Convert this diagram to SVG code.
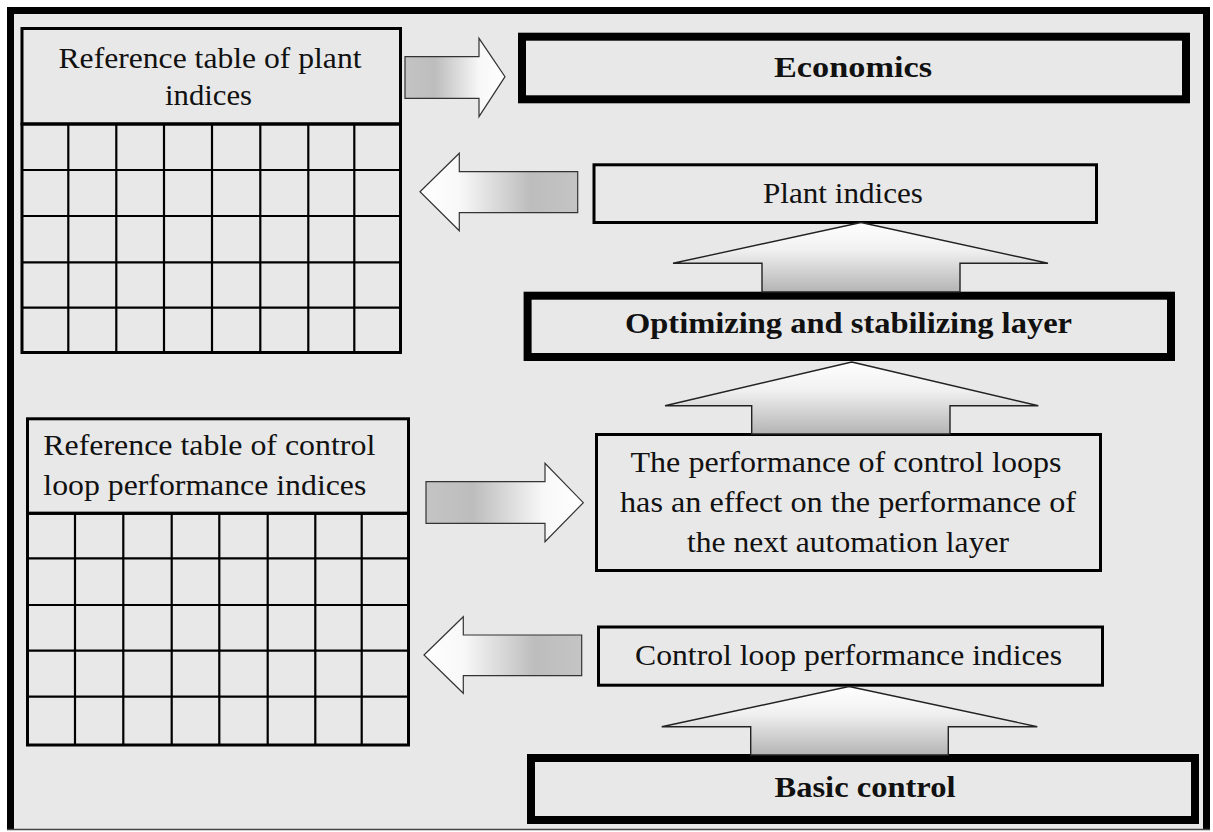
<svg xmlns="http://www.w3.org/2000/svg" width="1213" height="832" viewBox="0 0 1213 832" font-family="'Liberation Serif', 'Times New Roman', 'DejaVu Serif', serif">
<style>
text{font-family:'Liberation Serif','Times New Roman','DejaVu Serif',serif;}
.txt{font-size:29px;fill:#111;}
.b{font-weight:bold;}
.thin{fill:none;stroke:#000;stroke-width:3;}
.thick{fill:none;stroke:#000;stroke-width:8;}
.grid{fill:none;stroke:#000;stroke-width:2.2;}
.arrR{fill:url(#gradR);stroke:#333;stroke-width:1.2;stroke-linejoin:miter;}
.arrL{fill:url(#gradL);stroke:#333;stroke-width:1.2;stroke-linejoin:miter;}
.arrU{fill:url(#gradU);stroke:#222;stroke-width:1.4;stroke-linejoin:miter;}
</style>
<defs>
<linearGradient id="gradR" x1="0" y1="0" x2="1" y2="0">
<stop offset="0" stop-color="#c4c4c4"/>
<stop offset="0.3" stop-color="#bdbdbd"/>
<stop offset="0.75" stop-color="#f8f8f8"/>
<stop offset="1" stop-color="#ffffff"/>
</linearGradient>
<linearGradient id="gradL" x1="1" y1="0" x2="0" y2="0">
<stop offset="0" stop-color="#c4c4c4"/>
<stop offset="0.3" stop-color="#bdbdbd"/>
<stop offset="0.75" stop-color="#f8f8f8"/>
<stop offset="1" stop-color="#ffffff"/>
</linearGradient>
<linearGradient id="gradU" x1="0" y1="0" x2="0" y2="1">
<stop offset="0" stop-color="#ffffff"/>
<stop offset="0.4" stop-color="#f0f0f0"/>
<stop offset="1" stop-color="#b4b4b4"/>
</linearGradient>
</defs>
<rect x="0" y="0" width="1213" height="832" fill="#ffffff"/>
<g id="frame">
<rect x="7" y="7" width="1203" height="823" fill="#e8e8e8"/>
<path d="M10.5 830 V10.5 H1206.5 V830" fill="none" stroke="#000" stroke-width="7"/>
<line x1="7" y1="829.5" x2="1210" y2="829.5" stroke="#444" stroke-width="1.5"/>
</g>
<g id="ref-table-plant">
<rect class="thin" x="22" y="28.5" width="378.5" height="95.5"/>
<text class="txt" x="210" y="68" text-anchor="middle" textLength="303" lengthAdjust="spacingAndGlyphs">Reference table of plant</text>
<text class="txt" x="208.5" y="105" text-anchor="middle" textLength="87" lengthAdjust="spacingAndGlyphs">indices</text>
<rect class="thin" x="22" y="124" width="378.5" height="228.5"/>
<path class="grid" d="M68.3 124V352.5M116.3 124V352.5M164 124V352.5M212 124V352.5M260.3 124V352.5M308.3 124V352.5M354.3 124V352.5M22 170H400.5M22 216H400.5M22 262.3H400.5M22 307.7H400.5"/>
</g>
<g id="economics">
<rect class="thick" x="522" y="36.7" width="664" height="62.6"/>
<text class="txt b" x="853" y="77" text-anchor="middle" textLength="158" lengthAdjust="spacingAndGlyphs">Economics</text>
</g>
<g id="plant-indices">
<rect class="thin" x="594" y="164.8" width="502.5" height="57.7"/>
<text class="txt" x="843" y="203" text-anchor="middle" textLength="160" lengthAdjust="spacingAndGlyphs">Plant indices</text>
</g>
<g id="optimizing-layer">
<rect class="thick" x="527.6" y="295.7" width="643.4" height="61.3"/>
<text class="txt b" x="848.5" y="333" text-anchor="middle" textLength="447" lengthAdjust="spacingAndGlyphs">Optimizing and stabilizing layer</text>
</g>
<g id="ref-table-control">
<rect class="thin" x="27.5" y="418.8" width="381" height="94.5"/>
<text class="txt" x="43.3" y="455" textLength="332" lengthAdjust="spacingAndGlyphs">Reference table of control</text>
<text class="txt" x="43.3" y="495" textLength="323" lengthAdjust="spacingAndGlyphs">loop performance indices</text>
<rect class="thin" x="27.5" y="513.3" width="381" height="231.7"/>
<path class="grid" d="M75 513.3V745M123.3 513.3V745M171.7 513.3V745M219.3 513.3V745M267.7 513.3V745M315.3 513.3V745M361.7 513.3V745M27.5 558.3H408.5M27.5 605H408.5M27.5 650.7H408.5M27.5 696.7H408.5"/>
</g>
<g id="performance-effect">
<rect class="thin" x="596.5" y="434.5" width="504" height="136"/>
<text class="txt" x="846" y="472" text-anchor="middle" textLength="431" lengthAdjust="spacingAndGlyphs">The performance of control loops</text>
<text class="txt" x="848" y="512" text-anchor="middle" textLength="456" lengthAdjust="spacingAndGlyphs">has an effect on the performance of</text>
<text class="txt" x="848" y="552" text-anchor="middle" textLength="322" lengthAdjust="spacingAndGlyphs">the next automation layer</text>
</g>
<g id="control-loop-indices">
<rect class="thin" x="598.5" y="627" width="504" height="58.2"/>
<text class="txt" x="848.5" y="665" text-anchor="middle" textLength="427" lengthAdjust="spacingAndGlyphs">Control loop performance indices</text>
</g>
<g id="basic-control">
<rect class="thick" x="531" y="758" width="664" height="62"/>
<text class="txt b" x="865" y="797" text-anchor="middle" textLength="181" lengthAdjust="spacingAndGlyphs">Basic control</text>
</g>
<g id="connectors">
<polygon class="arrR" points="405,56.7 479,56.7 479,38.3 505,76.7 479,116.7 479,98.3 405,98.3"/>
<polygon class="arrL" points="420,191.7 459.3,153.3 459.3,171.7 577.7,171.7 577.7,212.7 459.3,212.7 459.3,230.7"/>
<polygon class="arrR" points="426,481.7 545,481.7 545,463.3 583.3,502.7 545,541.7 545,523.3 426,523.3"/>
<polygon class="arrL" points="424,655 463.3,616.7 463.3,635 581.7,635 581.7,675.7 463.3,675.7 463.3,693.3"/>
<polygon class="arrU" points="861,222.5 1048,263.3 960,263.3 960,292 762,292 762,263.3 673,263.3"/>
<polygon class="arrU" points="851.7,362 1038.3,405.7 950,405.7 950,434 751.7,434 751.7,405.7 665,405.7"/>
<polygon class="arrU" points="849,686.5 1037.3,726.7 948.3,726.7 948.3,755 750.7,755 750.7,726.7 661.7,726.7"/>
</g>
</svg>
